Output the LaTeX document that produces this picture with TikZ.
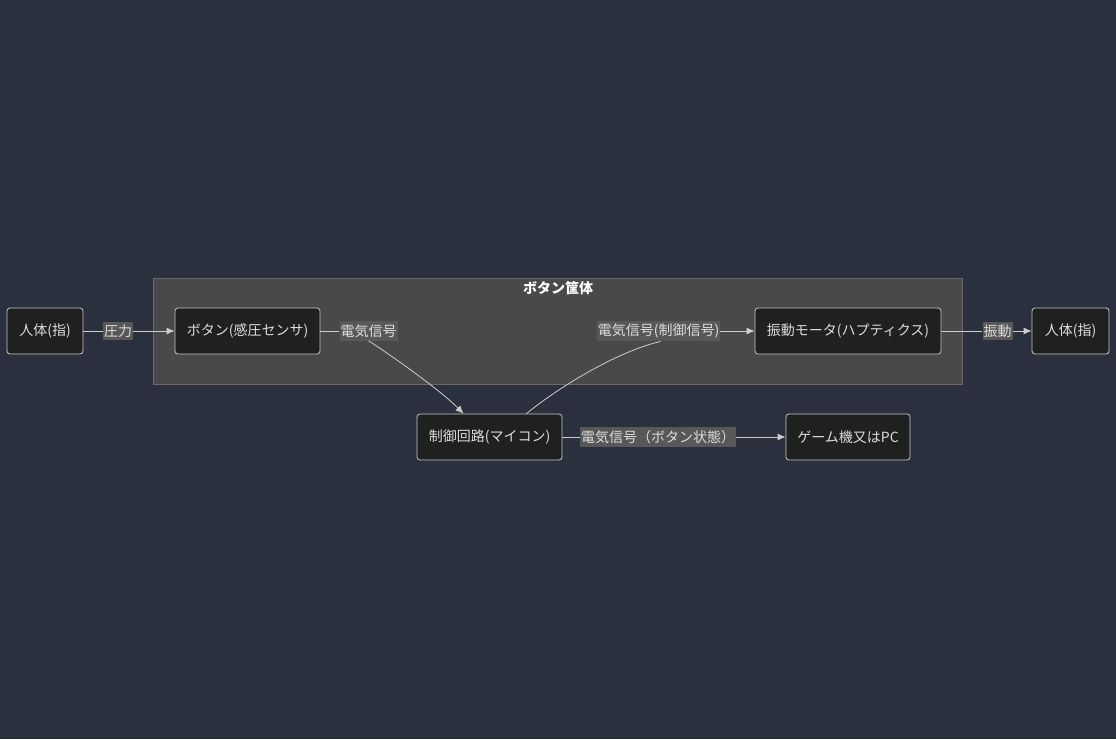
\documentclass[tikz,border=0pt]{standalone}
\usepackage{fontspec}
\setmainfont{Noto Sans CJK JP}
\usepackage{xcolor}
\usetikzlibrary{arrows.meta}
\definecolor{bgcol}{RGB}{42,48,61}
\definecolor{grpfill}{RGB}{73,73,73}
\definecolor{grpline}{RGB}{105,105,105}
\definecolor{boxfill}{RGB}{31,32,32}
\definecolor{boxline}{RGB}{200,200,200}
\definecolor{lblfill}{RGB}{88,88,88}
\definecolor{txtcol}{RGB}{220,220,220}
\definecolor{linecol}{RGB}{205,205,205}

\begin{document}
\begin{tikzpicture}[x=1pt,y=1pt,font=\fontsize{14}{16}\selectfont]
\tikzstyle{every node}+=[inner sep=0pt, text=txtcol]
\tikzstyle{box}=[draw=boxline, fill=boxfill, rounded corners=3pt, line width=0.8pt, minimum height=46pt]
\tikzstyle{lbl}=[fill=lblfill, inner xsep=1pt, inner ysep=3pt]
\tikzstyle{link}=[draw=linecol, line width=0.8pt]
\tikzstyle{tip}=[-{Latex[length=8pt,width=7pt]}]
\fill [bgcol] (0,0) rectangle (1116,-739);
\useasboundingbox (0,0) rectangle (1116,-739);
\draw [grpline, fill=grpfill, line width=0.8pt] (153,-278) rectangle (962,-384);
\node [text=white, font=\fontsize{14}{16}\selectfont\bfseries] (grp) at (558,-288) {ボタン筐体};
\node [box, minimum width=76pt] (finger) at (45,-331) {人体(指)};
\node [box, minimum width=145pt] (sensor) at (247.5,-331) {ボタン(感圧センサ)};
\node [box, minimum width=145pt] (mcu) at (489.5,-437) {制御回路(マイコン)};
\node [box, minimum width=186pt] (motor) at (848,-331) {振動モータ(ハプティクス)};
\node [box, minimum width=77pt] (finger2) at (1070.5,-331) {人体(指)};
\node [box, minimum width=124pt] (pc) at (848,-437) {ゲーム機又はPC};
\node [lbl] (press) at (118,-331) {圧力};
\node [lbl] (sig) at (368.5,-331) {電気信号};
\node [lbl] (ctrl) at (658.5,-331) {電気信号(制御信号)};
\node [lbl] (state) at (658,-437) {電気信号（ボタン状態）};
\node [lbl] (vib) at (997.5,-331) {振動};
\draw [link] (finger.east) -- (press.west);
\draw [link, tip] (press.east) -- (sensor.west);
\draw [link] (sensor.east) -- (sig.west);
\draw [link, tip] (sig.south) .. controls (395,-358) and (440,-390) .. ([xshift=-26pt]mcu.north);
\draw [link] ([xshift=37pt]mcu.north) .. controls (555,-390) and (615,-352) .. ([xshift=2pt]ctrl.south);
\draw [link, tip] (ctrl.east) -- (motor.west);
\draw [link] (mcu.east) -- (state.west);
\draw [link, tip] (state.east) -- (pc.west);
\draw [link] (motor.east) -- (vib.west);
\draw [link, tip] (vib.east) -- (finger2.west);
\end{tikzpicture}
\end{document}
